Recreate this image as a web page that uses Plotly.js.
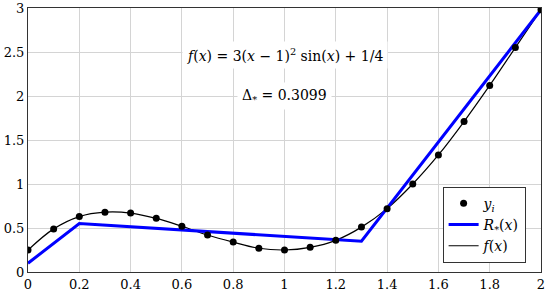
<!DOCTYPE html>
<html>
<head>
<meta charset="utf-8">
<script src="https://cdn.plot.ly/plotly-3.0.1.min.js"></script>
<style>
  html, body { margin: 0; padding: 0; background: #fff; }
  #chart { width: 550px; height: 293px; }
</style>
</head>
<body>
<div id="chart"></div>
<script>
// sample points y_i
const xi = [0, 0.1, 0.2, 0.3, 0.4, 0.5, 0.6, 0.7, 0.8, 0.9, 1.0,
            1.1, 1.2, 1.3, 1.4, 1.5, 1.6, 1.7, 1.8, 1.9, 2.0];
const yi = [0.25, 0.49, 0.63, 0.68, 0.67, 0.61, 0.52, 0.42, 0.34, 0.27, 0.25,
            0.28, 0.36, 0.51, 0.72, 1.0, 1.33, 1.71, 2.12, 2.55, 2.98];

// piecewise linear approximation R_*(x)
const rx = [0, 0.2, 1.3, 2.0];
const ry = [0.1, 0.55, 0.35, 2.98];

const serif = "'DejaVu Serif', serif";

const traces = [
  {
    x: xi, y: yi, name: '<i>f</i>(<i>x</i>)',
    type: 'scatter', mode: 'lines',
    line: { color: '#000', width: 1.2, shape: 'spline' },
    legendrank: 3
  },
  {
    x: rx, y: ry, name: '<i>R</i><sub>*</sub>(<i>x</i>)',
    type: 'scatter', mode: 'lines',
    line: { color: '#0000ff', width: 3 },
    legendrank: 2
  },
  {
    x: xi, y: yi, name: '<i>y<sub>i</sub></i>',
    type: 'scatter', mode: 'markers',
    marker: { color: '#000', size: 7 },
    legendrank: 1
  }
];

const axisCommon = {
  showgrid: true,
  gridcolor: '#d4d4d4',
  gridwidth: 1,
  showline: true,
  linecolor: '#333',
  linewidth: 1,
  mirror: true,
  zeroline: false,
  ticks: '',
  tickfont: { family: serif, size: 13, color: '#000' }
};

const layout = {
  width: 550,
  height: 293,
  margin: { l: 28, r: 9, t: 8, b: 21 },
  paper_bgcolor: '#fff',
  plot_bgcolor: '#fff',
  font: { family: serif, color: '#000' },
  xaxis: Object.assign({}, axisCommon, {
    range: [0, 2], tickvals: [0, 0.2, 0.4, 0.6, 0.8, 1, 1.2, 1.4, 1.6, 1.8, 2],
    ticktext: ['0', '0.2', '0.4', '0.6', '0.8', '1', '1.2', '1.4', '1.6', '1.8', '2']
  }),
  yaxis: Object.assign({}, axisCommon, {
    range: [0, 3], tickvals: [0, 0.5, 1, 1.5, 2, 2.5, 3],
    ticktext: ['0', '0.5', '1', '1.5', '2', '2.5', '3']
  }),
  legend: {
    x: 0.97, y: 0.035, xanchor: 'right', yanchor: 'bottom',
    bgcolor: '#fff', bordercolor: '#333', borderwidth: 1,
    font: { family: serif, size: 14, color: '#000' },
    traceorder: 'normal',
    tracegroupgap: 0,
    itemwidth: 30
  },
  annotations: [
    {
      x: 1, y: 2.47, xref: 'x', yref: 'y', showarrow: false,
      text: '<i>f</i>(<i>x</i>) = 3(<i>x</i> − 1)<sup>2</sup> sin(<i>x</i>) + 1/4',
      font: { family: serif, size: 14, color: '#000' },
      bgcolor: '#fff', borderpad: 4
    },
    {
      x: 1, y: 2.0, xref: 'x', yref: 'y', showarrow: false,
      text: 'Δ<sub>*</sub> = 0.3099',
      font: { family: serif, size: 14, color: '#000' },
      bgcolor: '#fff', borderpad: 4
    }
  ]
};

Plotly.newPlot('chart', traces, layout, { displayModeBar: false, staticPlot: true });
</script>
</body>
</html>
